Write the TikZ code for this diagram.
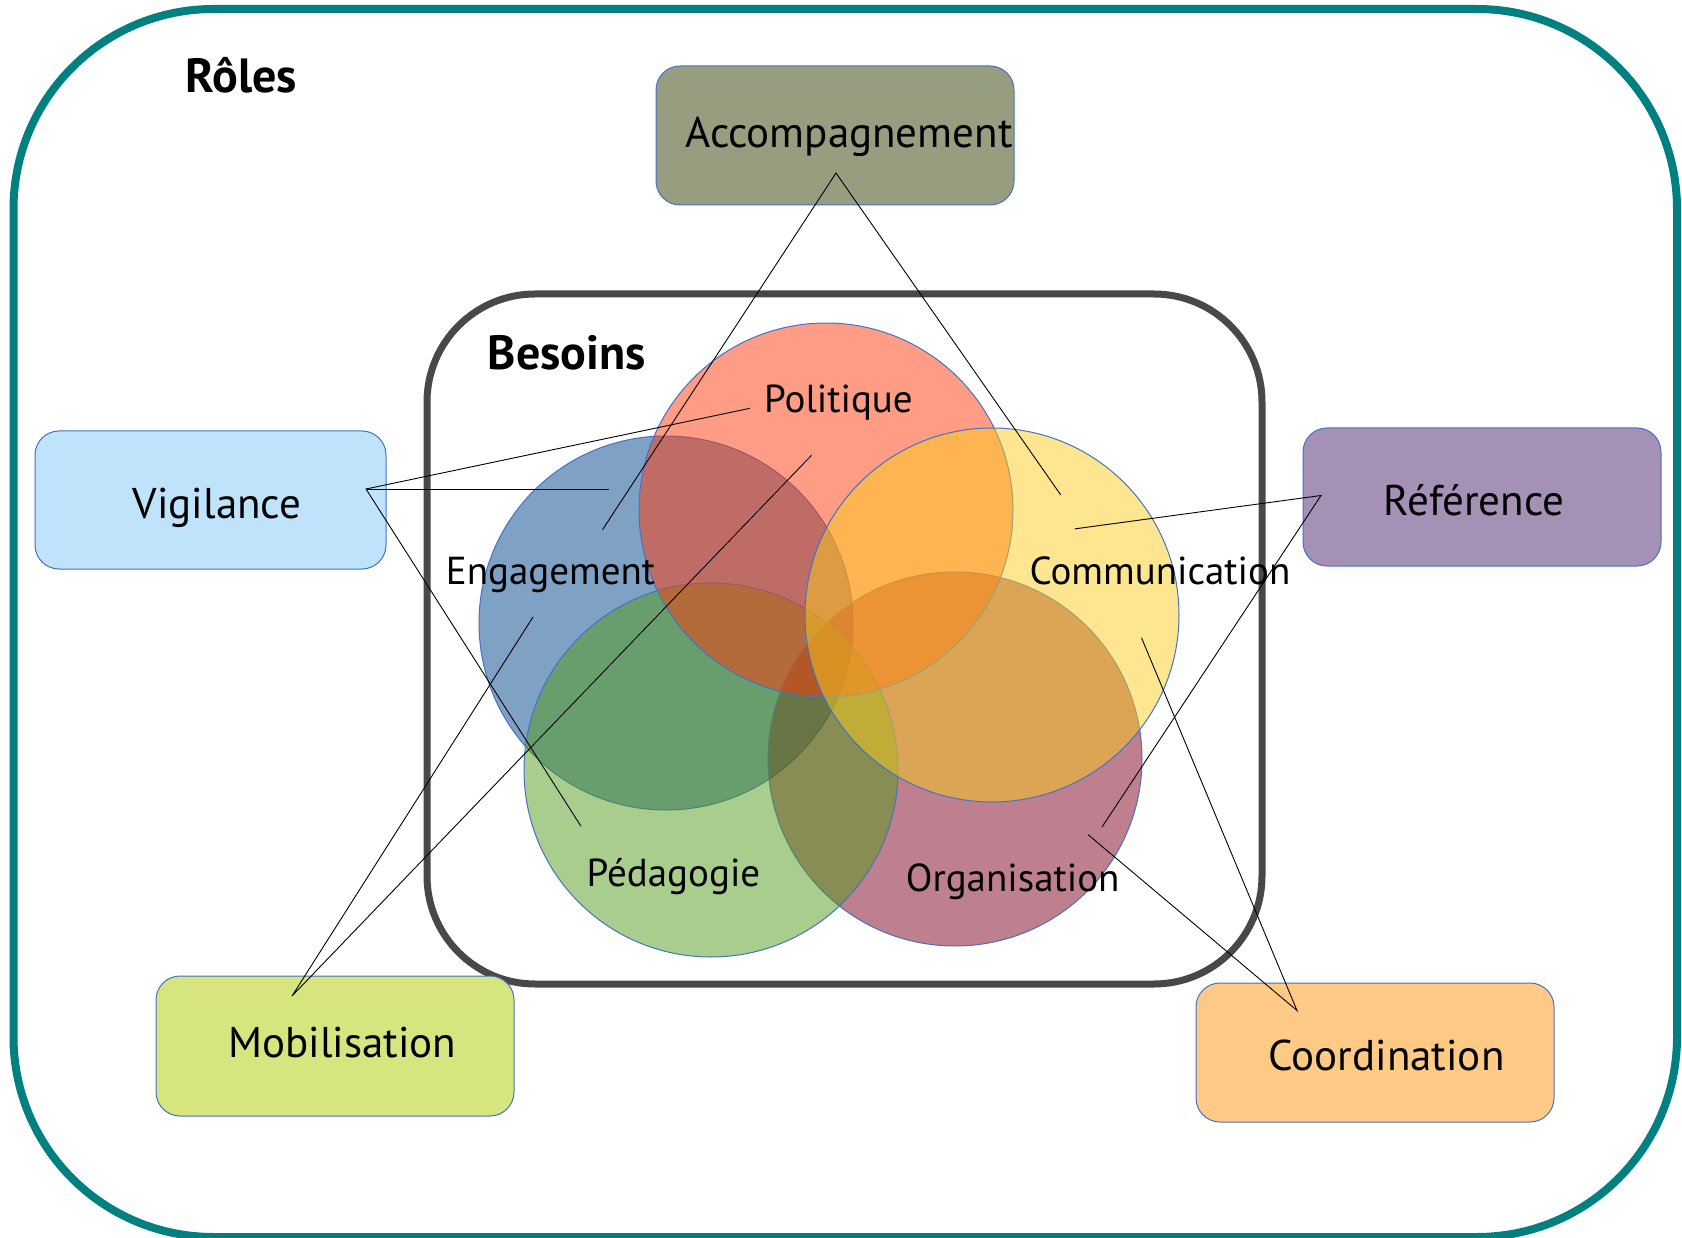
\documentclass[tikz,border=0pt]{standalone}
\usepackage{fontspec}
\setmainfont{PT Sans}
\definecolor{teal0}{RGB}{0,128,128}
\definecolor{frame0}{RGB}{72,72,72}
\definecolor{boxline}{RGB}{68,114,196}
\definecolor{accfill}{RGB}{151,158,128}
\definecolor{vigfill}{RGB}{192,227,252}
\definecolor{reffill}{RGB}{165,144,182}
\definecolor{mobfill}{RGB}{214,229,126}
\definecolor{coofill}{RGB}{255,201,134}
\definecolor{engbase}{RGB}{0,68,138}
\definecolor{orgbase}{RGB}{125,0,29}
\definecolor{pedbase}{RGB}{83,155,25}
\definecolor{polbase}{RGB}{255,57,11}
\definecolor{combase}{RGB}{251,205,31}
\newcommand\labfont{\fontsize{39}{44}\selectfont}
\newcommand\boxfont{\fontsize{43}{48}\selectfont}
\newcommand\titfont{\fontsize{48}{54}\selectfont\bfseries}
\begin{document}
\begin{tikzpicture}[x=1pt,y=-1pt,
  box/.style={draw=boxline, line width=1pt, rounded corners=24pt, minimum width=358pt, minimum height=139pt, inner sep=0pt},
  venn/.style={circle, draw=boxline, line width=1pt, fill opacity=0.5, minimum size=374pt, inner sep=0pt},
  lab/.style={font=\labfont, anchor=base, inner sep=0pt},
  boxlab/.style={font=\boxfont, anchor=base, inner sep=0pt},
  tit/.style={font=\titfont, anchor=base, inner sep=0pt},
  conn/.style={draw=black, line width=0.9pt}]
\useasboundingbox (0,0) rectangle (1682,1238);
% frames
\draw[teal0, line width=8pt, rounded corners=200pt] (13.5,9) rectangle (1677,1237);
\draw[frame0, line width=7pt, rounded corners=108pt] (427,294) rectangle (1262,984);
% Venn circles (drawing order matters)
\node[venn, fill=engbase] (eng) at (666,623) {};
\node[venn, fill=orgbase] (org) at (955,759) {};
\node[venn, fill=pedbase] (ped) at (711,770) {};
\node[venn, fill=polbase] (pol) at (826,510) {};
\node[venn, fill=combase] (com) at (992,615) {};
% titles
\node[tit] (roles) at (241.5,93) {Rôles};
\node[tit] (besoins) at (567,370) {Besoins};
% circle labels
\node[lab] (tpol) at (838.5,413) {Politique};
\node[lab] (teng) at (550.5,584) {Engagement};
\node[lab] (tcom) at (1160,584) {Communication};
\node[lab] (tped) at (673.5,886) {Pédagogie};
\node[lab] (torg) at (1012.7,891) {Organisation};
% role boxes
\node[box, fill=accfill] (acc) at (835,135.5) {};
\node[box, fill=vigfill, minimum width=351pt, minimum height=138pt] (vig) at (210.5,500) {};
\node[box, fill=reffill, minimum height=138pt] (ref) at (1482,497) {};
\node[box, fill=mobfill, minimum height=140pt] (mob) at (335,1046) {};
\node[box, fill=coofill] (coo) at (1375,1052.5) {};
\node[boxlab] (tacc) at (849,148) {Accompagnement};
\node[boxlab] (tvig) at (217,518) {Vigilance};
\node[boxlab] (tref) at (1474,515) {Référence};
\node[boxlab] (tmob) at (342.5,1057.5) {Mobilisation};
\node[boxlab] (tcoo) at (1386.5,1070.6) {Coordination};
% connector end points
\coordinate (accP) at (836,173);
\coordinate (a1) at (602.6,529.6);
\coordinate (a2) at (1060.7,494.9);
\coordinate (vigP) at (366,489);
\coordinate (v1) at (750,408.3);
\coordinate (v2) at (609,489);
\coordinate (v3) at (581,826.3);
\coordinate (mobP) at (292,996);
\coordinate (m1) at (533,617);
\coordinate (m2) at (811.5,455.3);
\coordinate (refP) at (1321,495.5);
\coordinate (r1) at (1074.6,528.9);
\coordinate (r2) at (1102,827);
\coordinate (cooP) at (1297,1010.5);
\coordinate (c1) at (1141.5,637.8);
\coordinate (c2) at (1088,834.6);
% connectors
\draw[conn] (a1) -- (accP) -- (a2);
\draw[conn] (v1) -- (vigP) -- (v3);
\draw[conn] (vigP) -- (v2);
\draw[conn] (m1) -- (mobP) -- (m2);
\draw[conn] (r1) -- (refP) -- (r2);
\draw[conn] (c1) -- (cooP) -- (c2);
\end{tikzpicture}
\end{document}
